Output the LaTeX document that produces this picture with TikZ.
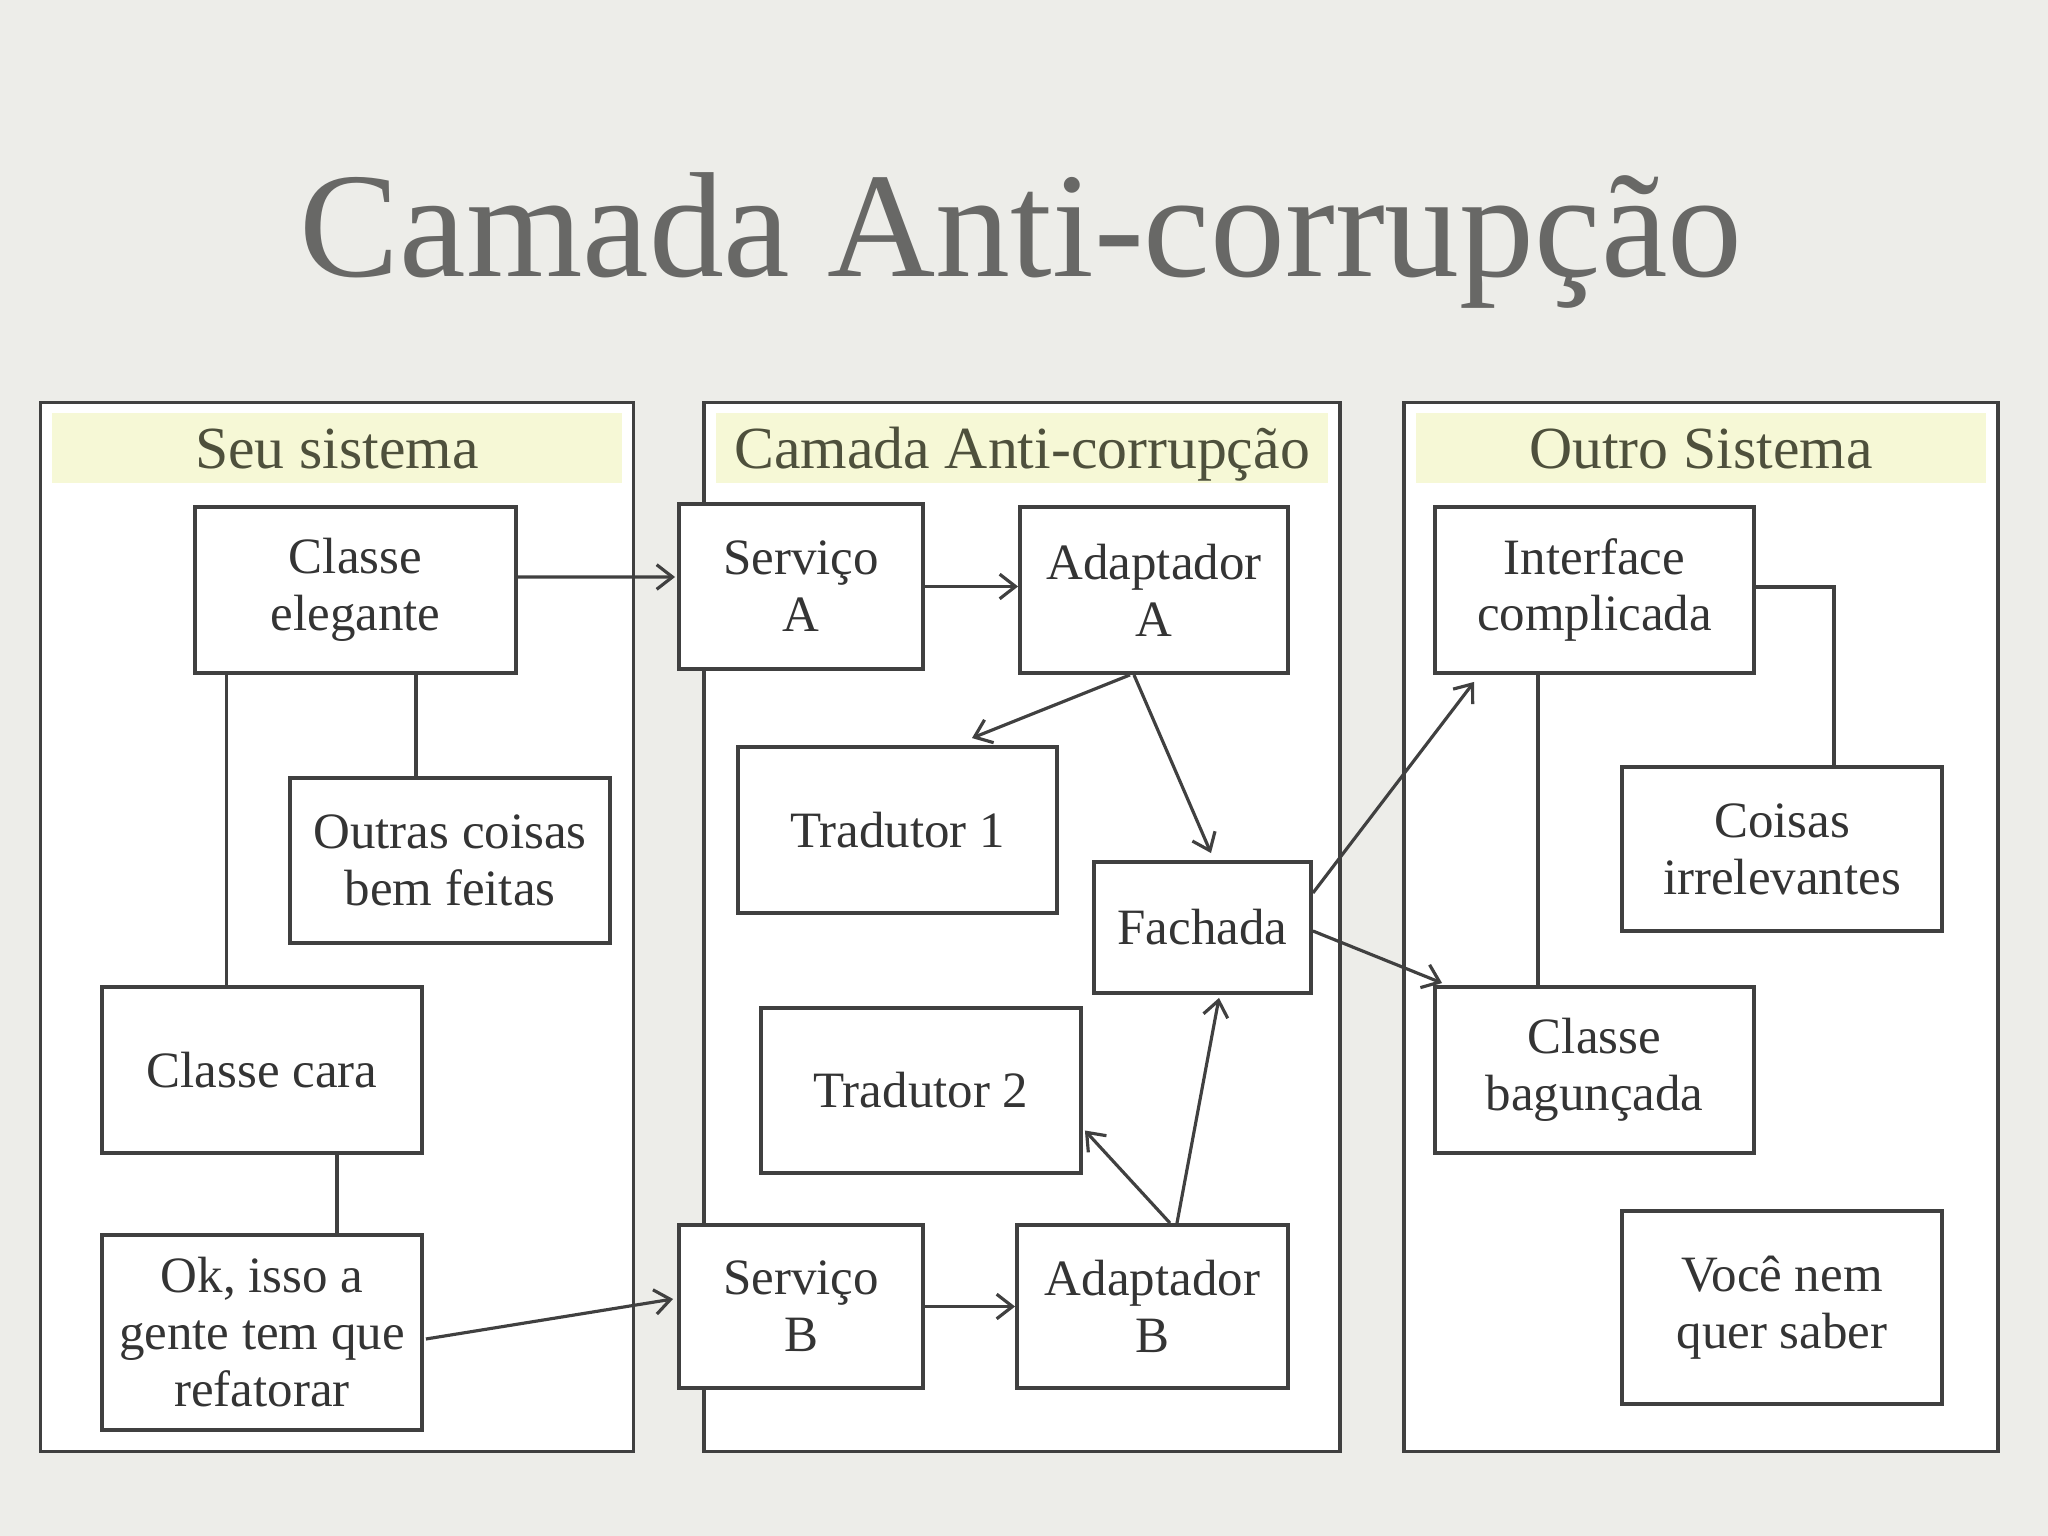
\documentclass[tikz,border=0pt]{standalone}
\usepackage{fontspec}
\setmainfont{Liberation Serif}
\usepackage{xcolor}
\usepackage{tikz}
\usetikzlibrary{arrows.meta, calc}
\definecolor{cbg}    {RGB}{237,237,233}
\definecolor{cline}  {RGB}{64,64,64}
\definecolor{ctext}  {RGB}{52,52,52}
\definecolor{chead}  {RGB}{246,248,214}
\definecolor{cheadtx}{RGB}{78,80,60}
\definecolor{ctitle} {RGB}{104,104,102}
\tikzset{
  panel/.style={rectangle, draw=cline, line width=1.1pt, fill=white,
                minimum width=#1, minimum height=10.49cm, inner sep=0pt},
  hdr/.style={rectangle, fill=chead, minimum width=#1, minimum height=0.7cm,
              font=\fontsize{17}{19}\selectfont\color{cheadtx},
              text height=11.5pt, text depth=0pt, inner sep=0pt},
  bb/.style 2 args={rectangle, draw=cline, line width=1.1pt, fill=white,
             font=\fontsize{14.5}{16.2}\selectfont\color{ctext}, align=center,
             minimum width=#1, minimum height=#2, inner sep=0pt},
  arr/.style={-{Straight Barb[length=4.5pt,width=7pt]}, line width=0.9pt, color=cline},
  lnk/.style={line width=0.9pt, color=cline},
}

\begin{document}
\begin{tikzpicture}
  % ── Background and title ───────────────────────────────────────────────────
  \fill[cbg] (0,0) rectangle (20.48,-15.36);
  \node[anchor=base, font=\fontsize{42.6}{48}\selectfont\color{ctitle}]
       at (10.21,-2.77) (title) {Camada Anti-corrupção};

  % ── Panels ─────────────────────────────────────────────────────────────────
  \node[panel=5.93cm] at (3.37, -9.27) (seu)    {};
  \node[panel=6.36cm] at (10.22,-9.27) (camada) {};
  \node[panel=5.94cm] at (17.01,-9.27) (outro)  {};
  \node[hdr=5.70cm] at (3.37, -4.48) (hseu)    {Seu sistema};
  \node[hdr=6.12cm] at (10.22,-4.48) (hcamada) {Camada Anti-corrupção};
  \node[hdr=5.70cm] at (17.01,-4.48) (houtro)  {Outro Sistema};

  % ── Nodes ──────────────────────────────────────────────────────────────────
  \node[bb={3.21cm}{1.66cm}] at (3.555,-5.90)  (ce) {Classe\\elegante};
  \node[bb={3.20cm}{1.65cm}] at (4.50, -8.605) (oc) {Outras coisas\\bem feitas};
  \node[bb={3.20cm}{1.66cm}] at (2.62, -10.70) (cc) {Classe cara};
  \node[bb={3.20cm}{1.95cm}] at (2.62, -13.325)(ok) {Ok, isso a\\gente tem que\\refatorar};

  \node[bb={2.44cm}{1.65cm}] at (8.01, -5.865) (sa) {Serviço\\A};
  \node[bb={2.68cm}{1.66cm}] at (11.54,-5.90)  (aa) {Adaptador\\A};
  \node[bb={3.19cm}{1.66cm}] at (8.975,-8.30)  (t1) {Tradutor 1};
  \node[bb={2.17cm}{1.31cm}] at (12.025,-9.275)(fa) {Fachada};
  \node[bb={3.20cm}{1.65cm}] at (9.21, -10.905)(t2) {Tradutor 2};
  \node[bb={2.44cm}{1.63cm}] at (8.01, -13.065)(sb) {Serviço\\B};
  \node[bb={2.71cm}{1.63cm}] at (11.525,-13.065)(ab) {Adaptador\\B};

  \node[bb={3.19cm}{1.66cm}] at (15.945,-5.90) (ic) {Interface\\complicada};
  \node[bb={3.20cm}{1.64cm}] at (17.82,-8.49)  (ci) {Coisas\\irrelevantes};
  \node[bb={3.19cm}{1.66cm}] at (15.945,-10.70)(cb) {Classe\\bagunçada};
  \node[bb={3.20cm}{1.93cm}] at (17.82,-13.075)(vq) {Você nem\\quer saber};

  % ── Links ──────────────────────────────────────────────────────────────────
  \coordinate (octop) at ($(oc.north west)+(1.28,0)$);
  \draw[lnk] ($(ce.south west)+(0.335,0)$) -- ($(cc.north west)+(1.265,0)$);
  \draw[lnk] (octop)                       -- (octop |- ce.south);
  \draw[lnk] ($(cc.south)+(0.75,0)$)       -- ($(ok.north)+(0.75,0)$);
  \draw[lnk] ($(ic.east)+(0,0.03)$)        -| ($(ci.north)+(0.52,0)$);
  \draw[lnk] ($(ic.south west)+(1.05,0)$)  -- ($(cb.north west)+(1.05,0)$);

  % ── Arrows ─────────────────────────────────────────────────────────────────
  \draw[arr] ($(ce.east)+(0,0.13)$)   -- ($(sa.west)+(-0.02,0.095)$);
  \draw[arr] (sa.east)                -- (sa.east -| aa.west);
  \draw[arr] ($(aa.south)+(-0.24,0)$) -- ($(t1.north)+(0.745,0.07)$);
  \draw[arr] ($(aa.south)+(-0.20,0)$) -- ($(fa.north)+(0.085,0.07)$);
  \draw[arr] ($(fa.east)+(0,0.345)$)  -- ($(ic.south west)+(0.41,-0.07)$);
  \draw[arr] ($(fa.east)+(0,-0.035)$) -- ($(cb.north west)+(0.09,0.02)$);
  \draw[arr] ($(ok.east)+(0.02,-0.065)$) -- ($(sb.west)+(-0.04,0.075)$);
  \draw[arr] (sb.east)                -- (sb.east -| ab.west);
  \draw[arr] ($(ab.north)+(0.175,0)$) -- ($(t2.east)+(0.02,-0.40)$);
  \draw[arr] ($(ab.north)+(0.245,0)$) -- ($(fa.south)+(0.165,-0.03)$);
\end{tikzpicture}
\end{document}
